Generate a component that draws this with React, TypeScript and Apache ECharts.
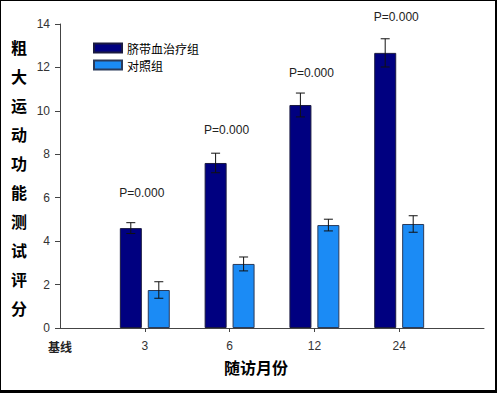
import React, { useEffect, useRef } from "react";
import * as echarts from "echarts";

const categories = ["基线", "3", "6", "12", "24", ""];
const treatName = "脐带血治疗组";
const controlName = "对照组";
const treatValues = [null, 4.6, 7.6, 10.27, 12.67, null];
const controlValues = [null, 1.75, 2.95, 4.74, 4.79, null];
const treatErr = [0, 0.25, 0.45, 0.55, 0.65, 0];
const controlErr = [0, 0.38, 0.32, 0.27, 0.38, 0];
const pLabels = ["", "P=0.000", "P=0.000", "P=0.000", "P=0.000", ""];
const pLabelY = [0, 6.2, 9.1, 11.75, 14.3, 0];
const yTitle = "粗大运动功能测试评分";
const xTitle = "随访月份";

const DARK = "#000080";
const LIGHT = "#1B8BF5";
const BAR_W = 22;
const BAR_OFFSET = 14;

function errData(values: (number | null)[], errs: number[]) {
  const out: number[][] = [];
  values.forEach((v, i) => {
    if (v != null) out.push([i, v - errs[i], v + errs[i]]);
  });
  return out;
}

function makeErrRender(offset: number) {
  return (params: any, api: any) => {
    const i = api.value(0);
    const lo = api.coord([i, api.value(1)]);
    const hi = api.coord([i, api.value(2)]);
    const x = lo[0] + offset;
    const cap = 4.5;
    const style = { stroke: "#111", lineWidth: 1 };
    return {
      type: "group",
      children: [
        { type: "line", shape: { x1: x, y1: lo[1], x2: x, y2: hi[1] }, style },
        { type: "line", shape: { x1: x - cap, y1: lo[1], x2: x + cap, y2: lo[1] }, style },
        { type: "line", shape: { x1: x - cap, y1: hi[1], x2: x + cap, y2: hi[1] }, style },
      ],
    };
  };
}

export default function App() {
  const ref = useRef<HTMLDivElement>(null);
  useEffect(() => {
    if (!ref.current) return;
    const chart = echarts.init(ref.current, undefined, { renderer: "svg" });
    const pData: any[] = [];
    pLabels.forEach((t, i) => {
      if (t) pData.push([i, pLabelY[i], t]);
    });
    chart.setOption({
      animation: false,
      backgroundColor: "#fff",
      grid: { left: 60, top: 24, right: 13, bottom: 65, containLabel: false },
      legend: {
        data: [treatName, controlName],
        orient: "vertical",
        left: 88,
        top: 37,
        itemWidth: 28,
        itemHeight: 9,
        itemGap: 5,
        icon: "rect",
        textStyle: { fontFamily: "Noto Sans CJK SC", fontSize: 12, color: "#000", padding: [0, 0, 0, 0] },
      },
      xAxis: {
        type: "category",
        data: categories,
        boundaryGap: false,
        axisLine: { lineStyle: { color: "#444", width: 1 } },
        axisTick: {
          show: true,
          length: 4,
          interval: (i: number) => i >= 1 && i <= 4,
          lineStyle: { color: "#444" },
        },
        axisLabel: {
          interval: 0,
          margin: 12,
          color: "#333",
          fontFamily: "Liberation Sans",
          fontSize: 12,
          formatter: (v: string, i: number) => (i === 0 ? "{cn|" + v + "}" : v),
          rich: { cn: { fontFamily: "Noto Sans CJK SC", fontSize: 12, color: "#222", fontWeight: "bold" } },
        },
      },
      yAxis: {
        type: "value",
        min: 0,
        max: 14,
        interval: 2,
        splitLine: { show: false },
        axisLine: { show: true, lineStyle: { color: "#444", width: 1 } },
        axisTick: { show: true, length: 5, lineStyle: { color: "#444" } },
        axisLabel: { margin: 10, color: "#333", fontFamily: "Liberation Sans", fontSize: 12 },
      },
      series: [
        {
          name: treatName,
          type: "bar",
          data: treatValues.map((v) => (v == null ? "-" : v)),
          barWidth: BAR_W,
          barGap: "27%",
          itemStyle: { color: DARK, borderColor: "#1a1a40", borderWidth: 1 },
        },
        {
          name: controlName,
          type: "bar",
          data: controlValues.map((v) => (v == null ? "-" : v)),
          barWidth: BAR_W,
          itemStyle: { color: LIGHT, borderColor: "#2a3a5a", borderWidth: 1 },
        },
        {
          type: "custom",
          name: "errTreat",
          data: errData(treatValues, treatErr),
          renderItem: makeErrRender(-BAR_OFFSET),
          z: 5,
        },
        {
          type: "custom",
          name: "errControl",
          data: errData(controlValues, controlErr),
          renderItem: makeErrRender(BAR_OFFSET),
          z: 5,
        },
        {
          type: "custom",
          name: "pLabels",
          data: pData,
          renderItem: (params: any, api: any) => {
            const p = api.coord([api.value(0), api.value(1)]);
            return {
              type: "text",
              x: p[0] - 3,
              y: p[1],
              style: {
                text: pLabels[api.value(0)],
                fill: "#222",
                font: "12px 'Liberation Sans'",
                align: "center",
                verticalAlign: "middle",
              },
            };
          },
          z: 6,
        },
      ],
      graphic: [
        {
          type: "text",
          left: 11,
          top: 32,
          style: {
            text: yTitle.split("").join("\n"),
            font: "bold 16px 'Noto Sans CJK SC'",
            lineHeight: 29,
            fill: "#000",
            align: "left",
          },
        },
        {
          type: "text",
          x: 256,
          y: 367,
          style: {
            text: xTitle,
            font: "bold 16px 'Noto Sans CJK SC'",
            fill: "#000",
            align: "center",
            verticalAlign: "middle",
          },
        },
        { type: "rect", shape: { x: 0, y: 0, width: 497, height: 1 }, style: { fill: "#000" } },
        { type: "rect", shape: { x: 0, y: 0, width: 1, height: 393 }, style: { fill: "#000" } },
        { type: "rect", shape: { x: 495, y: 0, width: 2, height: 393 }, style: { fill: "#000" } },
        { type: "rect", shape: { x: 0, y: 390, width: 497, height: 3 }, style: { fill: "#000" } },
      ],
    });
    return () => chart.dispose();
  }, []);
  return (
    <div
      ref={ref}
      style={{ position: "absolute", left: 0, top: 0, width: 497, height: 393 }}
    />
  );
}
